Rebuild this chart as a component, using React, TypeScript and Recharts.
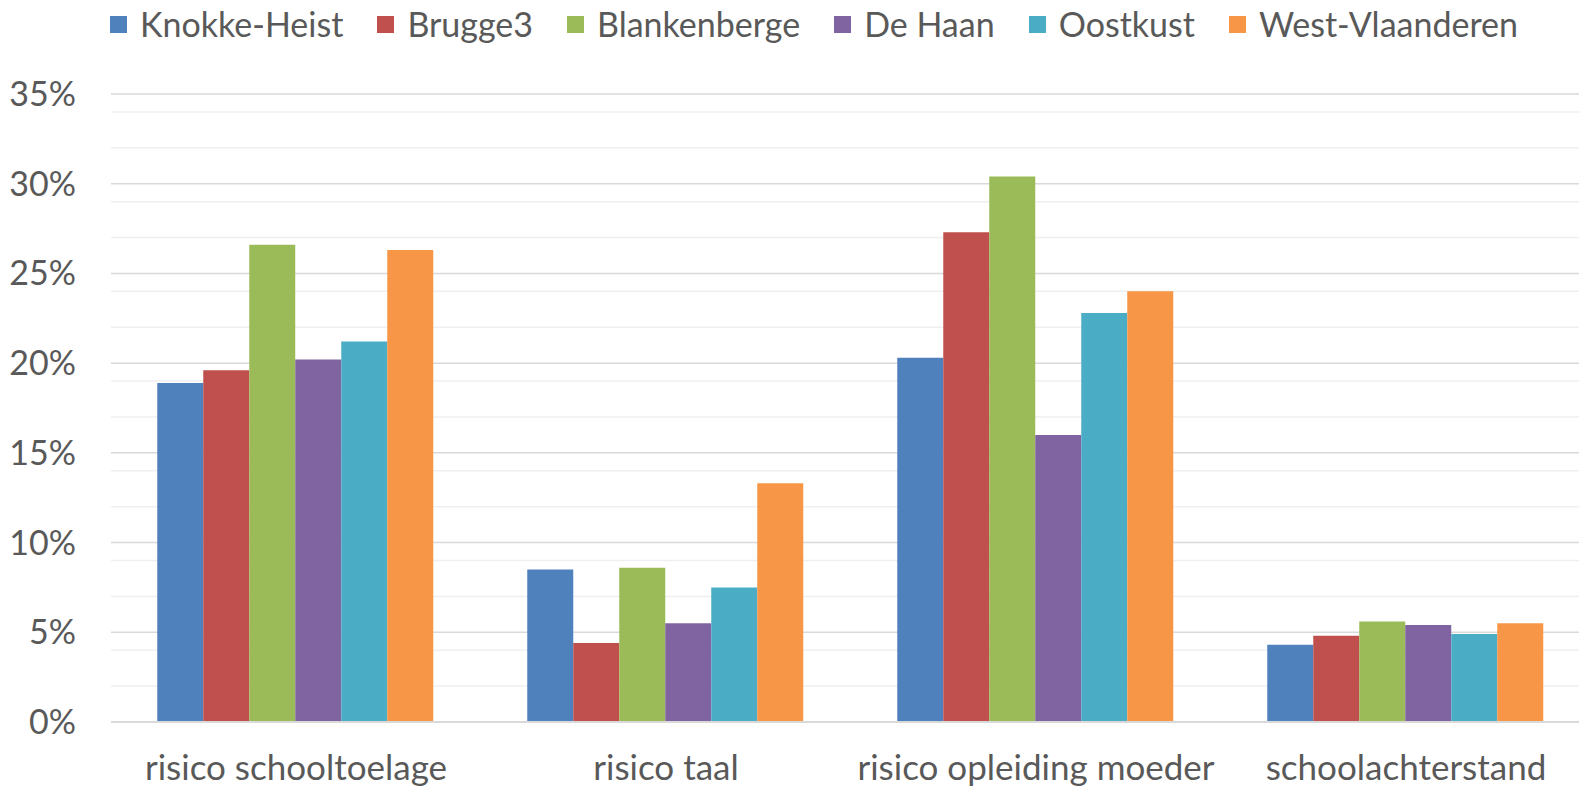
import React from 'react';
import { BarChart, Bar, XAxis, YAxis, CartesianGrid, Legend } from 'recharts';

const categories = ['risico schooltoelage', 'risico taal', 'risico opleiding moeder', 'schoolachterstand'];
const knokkeHeist = [18.9, 8.5, 20.3, 4.3];
const brugge3 = [19.6, 4.4, 27.3, 4.8];
const blankenberge = [26.6, 8.6, 30.4, 5.6];
const deHaan = [20.2, 5.5, 16.0, 5.4];
const oostkust = [21.2, 7.5, 22.8, 4.9];
const westVlaanderen = [26.3, 13.3, 24.0, 5.5];

const seriesNames = ['Knokke-Heist', 'Brugge3', 'Blankenberge', 'De Haan', 'Oostkust', 'West-Vlaanderen'];
const seriesColors = ['#4f81bd', '#c0504d', '#9bbb59', '#8064a2', '#4bacc6', '#f79646'];
const seriesValues = [knokkeHeist, brugge3, blankenberge, deHaan, oostkust, westVlaanderen];

const yTicks = [0, 5, 10, 15, 20, 25, 30, 35];
const minorTicks = [1, 2, 3, 4, 6, 7, 8, 9, 11, 12, 13, 14, 16, 17, 18, 19, 21, 22, 23, 24, 26, 27, 28, 29, 31, 32, 33, 34];

const data = categories.map((c, i) => {
  const row: Record<string, string | number> = { category: c };
  seriesNames.forEach((s, j) => {
    row[s] = seriesValues[j][i];
  });
  return row;
});

const FONT = 'Lato, "Open Sans", sans-serif';
const TEXT = '#595959';

const YTick = (props: any) => {
  const { x, y, payload } = props;
  return (
    <text x={x - 35} y={y} dy={12} textAnchor="end" fill={TEXT} fontSize={34} fontFamily={FONT}>
      {payload.value}%
    </text>
  );
};

const XTick = (props: any) => {
  const { x, y, payload } = props;
  return (
    <text x={x} y={y + 58} textAnchor="middle" fill={TEXT} fontSize={35} fontFamily={FONT}>
      {payload.value}
    </text>
  );
};

const LegendContent = () => (
  <div style={{ display: 'flex', justifyContent: 'center', alignItems: 'center', fontFamily: FONT, fontSize: 34, color: TEXT }}>
    {seriesNames.map((s, i) => (
      <div key={s} style={{ display: 'flex', alignItems: 'center', marginRight: i < seriesNames.length - 1 ? 34 : 0 }}>
        <div style={{ width: 17, height: 17, background: seriesColors[i], marginRight: 13 }} />
        <span style={{ lineHeight: '44px' }}>{s}</span>
      </div>
    ))}
  </div>
);

export default function App() {
  return (
    <div style={{ position: 'absolute', left: 0, top: 0, width: 1579, height: 788, overflow: 'hidden', background: '#fff' }}>
      <BarChart
        width={1600}
        height={788}
        data={data}
        margin={{ top: 50, right: 9, bottom: 0, left: 0 }}
        barCategoryGap="12.5%"
        barGap={0}
      >
        <CartesianGrid vertical={false} horizontalValues={minorTicks} stroke="#efefef" strokeWidth={1.5} />
        <CartesianGrid vertical={false} horizontalValues={yTicks} stroke="#d9d9d9" strokeWidth={1.5} />
        <XAxis
          dataKey="category"
          height={66}
          tickLine={false}
          tickSize={0}
          tickMargin={0}
          axisLine={{ stroke: '#d9d9d9', strokeWidth: 2 }}
          tick={<XTick />}
          interval={0}
        />
        <YAxis
          width={111}
          domain={[0, 35]}
          ticks={yTicks}
          axisLine={false}
          tickLine={false}
          tickSize={0}
          tickMargin={0}
          tick={<YTick />}
        />
        <Legend
          verticalAlign="top"
          content={<LegendContent />}
          wrapperStyle={{ position: 'absolute', top: 2, left: 0, width: 1628 }}
        />
        {seriesNames.map((s, i) => (
          <Bar key={s} dataKey={s} fill={seriesColors[i]} isAnimationActive={false} />
        ))}
      </BarChart>
    </div>
  );
}
